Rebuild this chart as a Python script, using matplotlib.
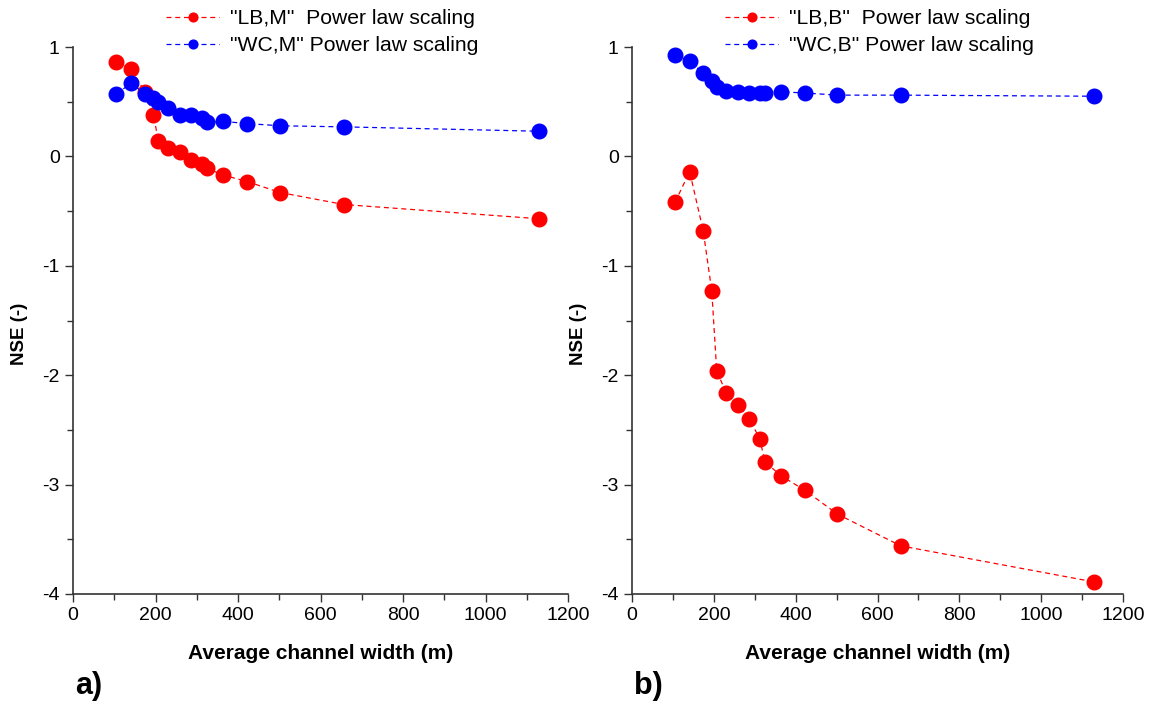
import matplotlib

matplotlib.use("Agg")
import matplotlib.pyplot as plt
from matplotlib.ticker import MultipleLocator

plt.rcParams["font.family"] = ["Liberation Sans", "DejaVu Sans"]
plt.rcParams["axes.unicode_minus"] = False

# average channel width (m), same for every series
width = [105, 141, 174, 195, 207, 230, 260, 287, 312, 325, 364, 422, 502, 657, 1130]

# panel a
nse_lb_m = [0.86, 0.80, 0.59, 0.38, 0.14, 0.08, 0.04, -0.03, -0.07, -0.11,
            -0.17, -0.23, -0.33, -0.44, -0.57]
nse_wc_m = [0.57, 0.67, 0.57, 0.53, 0.50, 0.44, 0.38, 0.38, 0.35, 0.31,
            0.32, 0.30, 0.28, 0.27, 0.23]

# panel b
nse_lb_b = [-0.42, -0.14, -0.68, -1.23, -1.96, -2.16, -2.27, -2.40, -2.58, -2.79,
            -2.92, -3.05, -3.27, -3.56, -3.89]
nse_wc_b = [0.93, 0.87, 0.76, 0.69, 0.63, 0.60, 0.59, 0.58, 0.58, 0.58,
            0.59, 0.58, 0.56, 0.56, 0.55]

panels = [
    ("a)", nse_lb_m, nse_wc_m, '"LB,M"  Power law scaling', '"WC,M" Power law scaling'),
    ("b)", nse_lb_b, nse_wc_b, '"LB,B"  Power law scaling', '"WC,B" Power law scaling'),
]

W, H = 1168, 706
fig = plt.figure(figsize=(W / 100, H / 100), dpi=100)

axes_px = [(73, 568), (632, 1123)]
top_px, bottom_px = 47, 594

for (label, red, blue, red_name, blue_name), (x0, x1) in zip(panels, axes_px):
    ax = fig.add_axes([x0 / W, 1 - bottom_px / H, (x1 - x0) / W, (bottom_px - top_px) / H])
    ax.plot(width, red, color="red", linestyle=(0, (4, 3)), linewidth=0.9,
            marker="o", markersize=10.5, markeredgecolor="red",
            markerfacecolor="red", label=red_name)
    ax.plot(width, blue, color="blue", linestyle=(0, (4, 3)), linewidth=0.9,
            marker="o", markersize=10.5, markeredgecolor="blue",
            markerfacecolor="blue", label=blue_name)
    for line in ax.lines:
        line.set_clip_on(False)

    ax.set_xlim(0, 1200)
    ax.set_ylim(-4, 1)
    ax.xaxis.set_major_locator(MultipleLocator(200))
    ax.xaxis.set_minor_locator(MultipleLocator(100))
    ax.yaxis.set_major_locator(MultipleLocator(1))
    ax.yaxis.set_minor_locator(MultipleLocator(0.5))
    ax.tick_params(which="both", direction="out", labelsize=14, color="#333333")
    ax.tick_params(which="major", length=6, width=1)
    ax.tick_params(which="minor", length=4, width=1)
    for side in ["top", "right"]:
        ax.spines[side].set_visible(False)
    for side in ["left", "bottom"]:
        ax.spines[side].set_color("#333333")
        ax.spines[side].set_linewidth(1.2)

    ax.set_xlabel("Average channel width (m)", fontsize=15, fontweight="bold", labelpad=14)
    ax.set_ylabel("NSE (-)", fontsize=13.5, fontweight="bold")
    ax.yaxis.set_label_coords(-45 / (x1 - x0), 0.476)

    ax.legend(loc="upper left", bbox_to_anchor=((x0 + 85) / W, 1.0 - 1 / H),
              bbox_transform=fig.transFigure, frameon=False, fontsize=15.2,
              markerscale=0.6, handlelength=2.5, handletextpad=0.5,
              labelspacing=0.38, borderaxespad=0.0)

    fig.text((x0 + 2) / W, 1 - 694 / H, label, fontsize=22, fontweight="bold",
             va="baseline")

fig.savefig("out.png", dpi=100)
